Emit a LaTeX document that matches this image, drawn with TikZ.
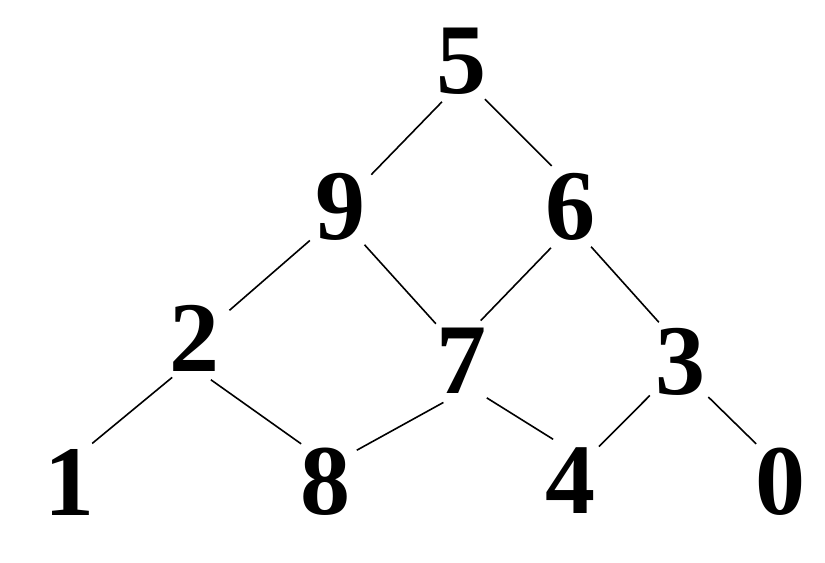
\documentclass[tikz,border=0pt]{standalone}
\usepackage{fontspec}
\setmainfont{Liberation Serif}
\begin{document}
\begin{tikzpicture}[
  x=0.25pt, y=-0.25pt,
  every node/.style={font=\bfseries\fontsize{25}{30}\selectfont, circle, minimum size=22.5pt, inner sep=0pt, outer sep=0pt},
  line width=0.4pt
]
\useasboundingbox (0,0) rectangle (825,562);

\node (n5) at (461,61)  {5};
\node (n9) at (340,207) {9};
\node (n6) at (570,207) {6};
\node (n2) at (194,338) {2};
\node (n7) at (461,361) {7};
\node (n3) at (680,362) {3};
\node (n1) at (69,482)  {1};
\node (n8) at (325,482) {8};
\node (n4) at (570,481) {4};
\node (n0) at (780,482) {0};

\draw (n5.-115.5) -- (n9.46.7);
\draw (n5.-58)    -- (n6.114.8);
\draw (n9.-132.9) -- (n2.38.5);
\draw (n9.-57.1)  -- (n7.124);
\draw (n6.-115.3) -- (n7.64.4);
\draw (n6.-62.6)  -- (n3.118.9);
\draw (n2.-119.6) -- (n1.59.5);
\draw (n2.-68)    -- (n8.122.7);
\draw (n7.-113.2) -- (n8.45);
\draw (n7.-55.8)  -- (n4.112);
\draw (n3.-132.4) -- (n4.50.9);
\draw (n3.-51.5)  -- (n0.122.5);
\end{tikzpicture}
\end{document}
